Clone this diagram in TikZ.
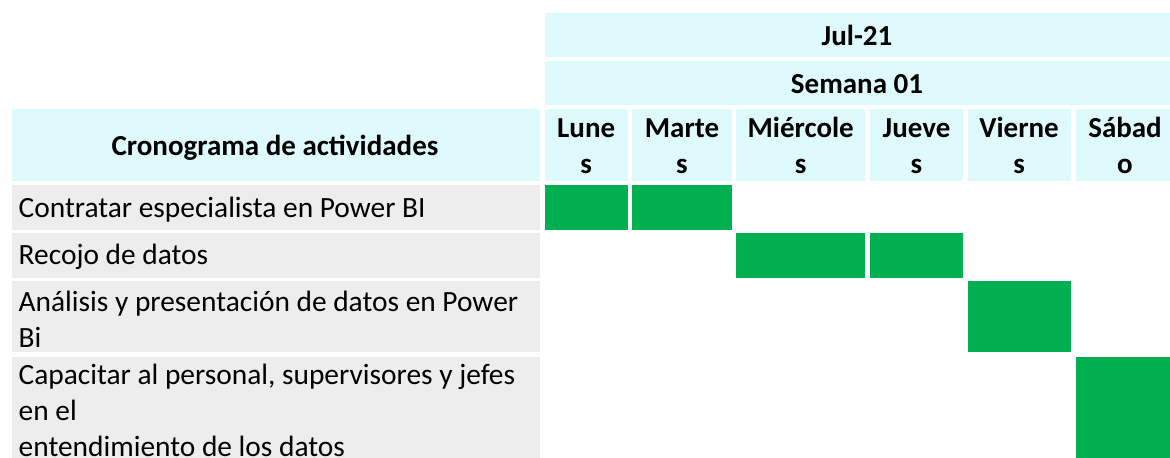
\documentclass[tikz,border=0pt]{standalone}
\usepackage{fontspec}
\setmainfont{Carlito}
\definecolor{hdrcyan}{HTML}{DEFAFC}
\definecolor{actgray}{HTML}{EDEDED}
\definecolor{bargreen}{HTML}{00B050}
\tikzset{
  hdr/.style={fill=hdrcyan},
  act/.style={fill=actgray},
  bar/.style={fill=bargreen},
  htext/.style={font=\fontsize{14.5}{18}\selectfont\bfseries, inner sep=0pt, align=center, anchor=base},
  atext/.style={font=\fontsize{14.7}{18}\selectfont, inner sep=0pt, align=left, anchor=base west}
}
\begin{document}
\begin{tikzpicture}[x=0.5pt,y=-0.5pt]
          \useasboundingbox (0,0) rectangle (1170,457);
          % header cells
          \path[hdr] (544.8,13.3) rectangle (1170,57.3);
          \path[hdr] (544.8,61.3) rectangle (1170,105.3);
          \path[hdr] (11.5,109.3) rectangle (540.4,180.7);
          \path[hdr] (544.8,109.3) rectangle (627.6,180.7);
          \path[hdr] (632.4,109.3) rectangle (731.6,180.7);
          \path[hdr] (736.0,109.3) rectangle (865.4,180.7);
          \path[hdr] (870.2,109.3) rectangle (962.7,180.7);
          \path[hdr] (967.5,109.3) rectangle (1070.7,180.7);
          \path[hdr] (1075.5,109.3) rectangle (1180,180.7);
          % activity cells
          \path[act] (11.5,185.0) rectangle (540.4,229.7);
          \path[act] (11.5,233.3) rectangle (540.4,277.7);
          \path[act] (11.5,281.3) rectangle (540.4,352.3);
          \path[act] (11.5,356.7) rectangle (540.4,470);
          % bars
          \path[bar] (544.8,185.0) rectangle (627.6,229.7);
          \path[bar] (632.4,185.0) rectangle (731.6,229.7);
          \path[bar] (736.0,233.3) rectangle (865.4,277.7);
          \path[bar] (870.2,233.3) rectangle (962.7,277.7);
          \path[bar] (967.5,281.3) rectangle (1070.7,352.3);
          \path[bar] (1075.5,356.7) rectangle (1180,470);
          % header texts (base = last line)
          \node[htext] (mes) at (857,45) {Jul-21};
          \node[htext] (semana) at (857,93.3) {Semana 01};
          \node[htext] (titulo) at (275,155.7) {Cronograma de actividades};
          \node[htext] (lun) at (586.2,173.3) {Lune\\s};
          \node[htext] (mar) at (682.0,173.3) {Marte\\s};
          \node[htext] (mie) at (800.7,173.3) {Miércole\\s};
          \node[htext] (jue) at (916.5,173.3) {Jueve\\s};
          \node[htext] (vie) at (1019.1,173.3) {Vierne\\s};
          \node[htext] (sab) at (1125.0,173.3) {Sábad\\o};
          % activities
          \node[atext] (a1) at (18.3,217.3) {Contratar especialista en Power BI};
          \node[atext] (a2) at (18.3,264.5) {Recojo de datos};
          \node[atext] (a3) at (18.3,347.0) {Análisis y presentación de datos en Power\\Bi};
          \node[atext] (a4) at (18.3,456.3) {Capacitar al personal, supervisores y jefes\\en el\\entendimiento de los datos};
\end{tikzpicture}
\end{document}
